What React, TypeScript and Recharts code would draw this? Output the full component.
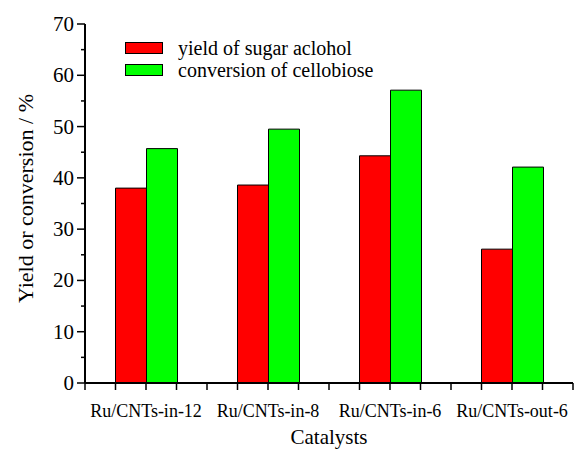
import React from "react";
import {
  BarChart,
  Bar,
  XAxis,
  YAxis,
  Legend,
  Label,
} from "recharts";

// values
const catalysts = ["Ru/CNTs-in-12", "Ru/CNTs-in-8", "Ru/CNTs-in-6", "Ru/CNTs-out-6"];
const catalystPositions = [0.5, 1.5, 2.5, 3.5];
const sugarAlcoholYield = [38, 38.6, 44.3, 26.1];
const cellobioseConversion = [45.7, 49.5, 57.1, 42.1];
const seriesNames = ["yield of sugar aclohol", "conversion of cellobiose"];

const xTicks = [0, 0.25, 0.5, 0.75, 1, 1.25, 1.5, 1.75, 2, 2.25, 2.5, 2.75, 3, 3.25, 3.5, 3.75, 4];
const yTicks = [0, 5, 10, 15, 20, 25, 30, 35, 40, 45, 50, 55, 60, 65, 70];

const data = catalysts.map((name, i) => ({
  name,
  pos: catalystPositions[i],
  yieldSugar: sugarAlcoholYield[i],
  conversion: cellobioseConversion[i],
}));

const FONT = '"Liberation Serif", "Times New Roman", serif';

const labelAt = (v: number) => {
  const i = catalystPositions.indexOf(v);
  return i >= 0 ? catalysts[i] : "";
};

const LeftTick = (props: any) => {
  const { x, y, payload } = props;
  const major = payload.value % 10 === 0;
  return (
    <g>
      <line x1={x - (major ? 8 : 4)} x2={x} y1={y} y2={y} stroke="#000" strokeWidth={1.5} />
      {major && (
        <text
          x={x - 11}
          y={y}
          textAnchor="end"
          dominantBaseline="central"
          fontSize={21}
          fontFamily={FONT}
          fill="#000"
        >
          {payload.value}
        </text>
      )}
    </g>
  );
};

const renderLegend = (props: any) => (
  <div style={{ fontFamily: FONT }}>
    {props.payload.map((entry: any) => (
      <div key={entry.value} style={{ display: "flex", alignItems: "center", height: 22 }}>
        <span
          style={{
            display: "inline-block",
            width: 38,
            height: 12,
            background: entry.color,
            border: "1px solid #000",
            boxSizing: "border-box",
          }}
        />
        <span style={{ marginLeft: 15, fontSize: 20, color: "#000", whiteSpace: "nowrap" }}>
          {entry.value}
        </span>
      </div>
    ))}
  </div>
);

export default function App() {
  return (
    <div style={{ position: "absolute", left: 0, top: 0, background: "#fff" }}>
      <BarChart
        width={586}
        height={450}
        data={data}
        margin={{ top: 24, right: 13, left: 0, bottom: 0 }}
        barCategoryGap="25%"
        barGap={0}
      >
        <XAxis
          dataKey="pos"
          type="number"
          domain={[0, 4]}
          ticks={xTicks}
          interval={0}
          height={67}
          tickSize={7}
          tickMargin={14}
          tickFormatter={labelAt}
          tick={{ fontSize: 18, fontFamily: FONT, fill: "#000" }}
          axisLine={{ stroke: "#000", strokeWidth: 2 }}
          tickLine={{ stroke: "#000", strokeWidth: 1.5 }}
        >
          <Label
            content={(p: any) => {
              const vb = p.viewBox;
              return (
                <text
                  x={vb.x + vb.width / 2}
                  y={vb.y + 61}
                  textAnchor="middle"
                  fontSize={21}
                  fontFamily={FONT}
                  fill="#000"
                >
                  Catalysts
                </text>
              );
            }}
          />
        </XAxis>
        <XAxis
          xAxisId="top"
          orientation="top"
          type="number"
          domain={[0, 4]}
          ticks={xTicks}
          interval={0}
          height={0}
          mirror
          tick={false}
          tickSize={3}
          axisLine={{ stroke: "#000", strokeWidth: 2 }}
          tickLine={{ stroke: "#000", strokeWidth: 1.5 }}
        />
        <YAxis
          domain={[0, 70]}
          ticks={yTicks}
          interval={0}
          width={85}
          tickSize={0}
          tickMargin={0}
          tickLine={false}
          tick={<LeftTick />}
          axisLine={{ stroke: "#000", strokeWidth: 2 }}
        >
          <Label
            content={(p: any) => {
              const vb = p.viewBox;
              const cx = vb.x + 33;
              const cy = vb.y + vb.height / 2 - 5;
              return (
                <text
                  x={cx}
                  y={cy}
                  transform={`rotate(-90, ${cx}, ${cy})`}
                  textAnchor="middle"
                  fontSize={22}
                  fontFamily={FONT}
                  fill="#000"
                >
                  Yield or conversion / %
                </text>
              );
            }}
          />
        </YAxis>
        <YAxis
          yAxisId="right"
          orientation="right"
          domain={[0, 70]}
          ticks={yTicks}
          interval={0}
          width={0}
          tick={false}
          tickSize={3}
          axisLine={{ stroke: "#000", strokeWidth: 2 }}
          tickLine={{ stroke: "#000", strokeWidth: 1.5 }}
        />
        <Legend
          layout="vertical"
          align="center"
          verticalAlign="middle"
          itemSorter={(item: any) => seriesNames.indexOf(item.value)}
          content={renderLegend}
          wrapperStyle={{ left: 125, top: 37, width: "auto" }}
        />
        <Bar
          dataKey="yieldSugar"
          name={seriesNames[0]}
          fill="#ff0000"
          stroke="#000"
          strokeWidth={1}
          isAnimationActive={false}
        />
        <Bar
          dataKey="conversion"
          name={seriesNames[1]}
          fill="#00ff00"
          stroke="#000"
          strokeWidth={1}
          isAnimationActive={false}
        />
      </BarChart>
    </div>
  );
}
